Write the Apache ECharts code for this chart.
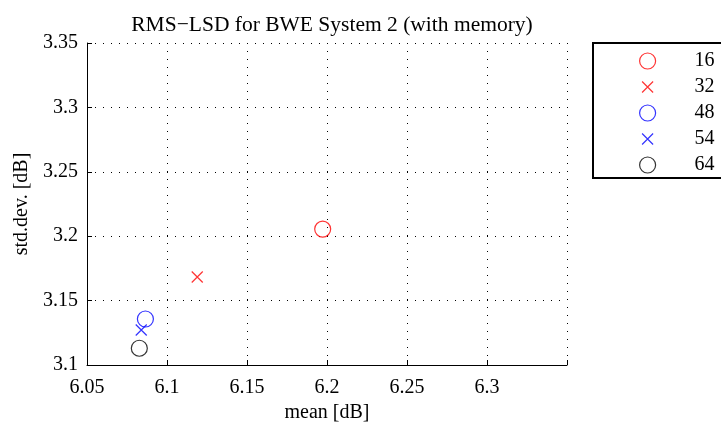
<!DOCTYPE html>
<html>
<head>
<meta charset="utf-8">
<script src="https://cdn.jsdelivr.net/npm/echarts@6/dist/echarts.min.js"></script>
<style>html,body{margin:0;padding:0;background:#fff}#c{width:721px;height:423px}</style>
</head>
<body>
<div id="c"></div>
<script>
var seriesNames = ['16', '32', '48', '54', '64'];
var seriesColors = ['#ff0000', '#ff0000', '#0000ff', '#0000ff', '#000000'];
var seriesShapes = ['circle', 'cross', 'circle', 'cross', 'circle'];
var meanValues = [6.1973, 6.1189, 6.0865, 6.0839, 6.0827];
var stdValues = [3.2055, 3.1683, 3.1357, 3.1272, 3.1130];
var xTicks = [6.05, 6.1, 6.15, 6.2, 6.25, 6.3, 6.35];
var yTicks = [3.1, 3.15, 3.2, 3.25, 3.3, 3.35];

var FONT = '"Liberation Serif", "DejaVu Serif", serif';
var crossPath = 'path://M0,0L10,10M10,0L0,10';
var crossIcon = 'path://M0,0L0.01,0M2.5,2.5L13.5,13.5M13.5,2.5L2.5,13.5M16,16L15.99,16';

var series = seriesNames.map(function (n, i) {
  var isCross = seriesShapes[i] === 'cross';
  return {
    name: n,
    type: 'scatter',
    data: [[meanValues[i], stdValues[i]]],
    symbol: isCross ? crossPath : 'circle',
    symbolSize: isCross ? 11 : 16,
    itemStyle: {
      color: 'rgba(0,0,0,0)',
      borderColor: seriesColors[i],
      borderWidth: 1.2
    },
    emphasis: { disabled: true }
  };
});

var chart = echarts.init(document.getElementById('c'), null, { renderer: 'canvas' });
chart.setOption({
  animation: false,
  backgroundColor: '#ffffff',
  title: {
    text: 'RMS\u2212LSD for BWE System 2 (with memory)',
    left: 327, top: 9, textAlign: 'center',
    textStyle: { fontFamily: FONT, fontSize: 21.5, fontWeight: 'normal', color: '#000' }
  },
  grid: { left: 87, right: 154, top: 43, bottom: 58, containLabel: false, outerBoundsMode: 'none' },
  legend: {
    orient: 'vertical',
    left: 593, top: 43,
    padding: [8, 40, 3, 46],
    itemWidth: 16, itemHeight: 16, itemGap: 6,
    borderColor: '#000', borderWidth: 2,
    data: seriesNames.map(function (n, i) {
      return { name: n, icon: seriesShapes[i] === 'cross' ? crossIcon : 'circle',
        itemStyle: { color: 'rgba(0,0,0,0)', borderColor: seriesColors[i], borderWidth: 1.2 } };
    }),
    textStyle: { fontFamily: FONT, fontSize: 20, color: '#000', padding: [0, 0, 0, 34], lineHeight: 16 }
  },
  xAxis: {
    type: 'value', min: 6.05, max: 6.35, interval: 0.05,
    name: 'mean [dB]', nameLocation: 'middle', nameGap: 34,
    nameTextStyle: { fontFamily: FONT, fontSize: 20, color: '#000' },
    axisLine: { show: true, onZero: false, lineStyle: { color: '#000', width: 1 } },
    axisTick: { show: true, inside: true, length: 5, lineStyle: { color: '#000' } },
    axisLabel: {
      margin: 13, fontFamily: FONT, fontSize: 20, color: '#000',
      formatter: function (v) { var r = Math.round(v * 100) / 100; return r >= 6.349 ? '' : String(r); }
    },
    splitLine: { show: true, lineStyle: { color: '#000', width: 1, type: [1, 7] } }
  },
  yAxis: {
    type: 'value', min: 3.1, max: 3.35, interval: 0.05,
    name: 'std.dev. [dB]', nameLocation: 'middle', nameGap: 55,
    nameTextStyle: { fontFamily: FONT, fontSize: 20, color: '#000' },
    axisLine: { show: true, onZero: false, lineStyle: { color: '#000', width: 1 } },
    axisTick: { show: true, inside: true, length: 5, lineStyle: { color: '#000' } },
    axisLabel: {
      margin: 9, fontFamily: FONT, fontSize: 20, color: '#000',
      formatter: function (v) { return String(Math.round(v * 100) / 100); }
    },
    splitLine: { show: true, lineStyle: { color: '#000', width: 1, type: [1, 7] } }
  },
  series: series
});
</script>
</body>
</html>
